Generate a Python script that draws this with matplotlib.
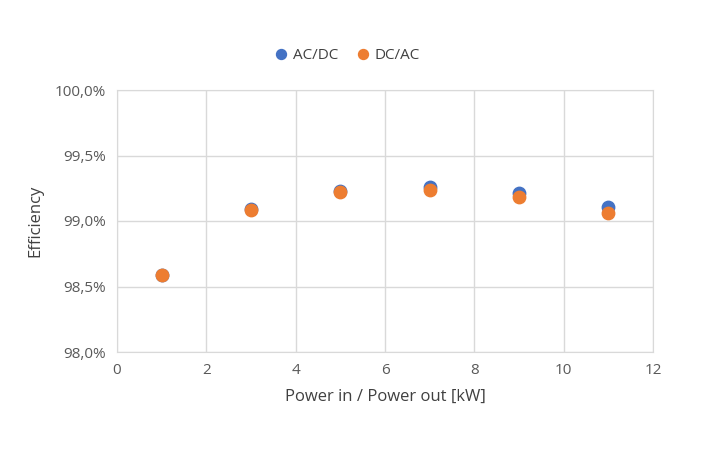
import matplotlib
matplotlib.use("Agg")
import matplotlib.pyplot as plt
from matplotlib.ticker import FuncFormatter

power = [1, 3, 5, 7, 9, 11]
ac_dc = [98.59, 99.094, 99.232, 99.258, 99.212, 99.110]
dc_ac = [98.587, 99.084, 99.222, 99.237, 99.184, 99.061]

plt.rcParams["font.family"] = "Open Sans"
fig = plt.figure(figsize=(7.11, 4.5), dpi=100)
ax = fig.add_axes([117/711, 1-352/450, (653-117)/711, (352-90)/450])
ax.scatter(power, ac_dc, s=80, color="#4472C4", label="AC/DC", zorder=3)
ax.scatter(power, dc_ac, s=80, color="#ED7D31", label="DC/AC", zorder=4)
ax.set_xlim(0, 12)
ax.set_ylim(98.0, 100.0)
ax.set_xticks(range(0, 13, 2))
ax.set_yticks([98.0, 98.5, 99.0, 99.5, 100.0])
ax.yaxis.set_major_formatter(FuncFormatter(lambda v, p: f"{v:.1f}%".replace(".", ",")))
ax.grid(True, color="#D9D9D9", linewidth=1)
ax.set_axisbelow(True)
for s in ax.spines.values():
    s.set_color("#D9D9D9")
ax.tick_params(length=0, labelsize=11, colors="#595959", pad=8)
ax.set_xlabel("Power in / Power out [kW]", fontsize=12, color="#404040", labelpad=8)
ax.set_ylabel("Efficiency", fontsize=12, color="#404040", labelpad=8)
fig.legend(loc="upper center", bbox_to_anchor=(0.482, 0.925), ncol=2, frameon=False,
           fontsize=11, handletextpad=-0.2, columnspacing=0.6, markerscale=0.8,
           labelcolor="#404040")
fig.savefig("out.png", dpi=100, facecolor="white")
